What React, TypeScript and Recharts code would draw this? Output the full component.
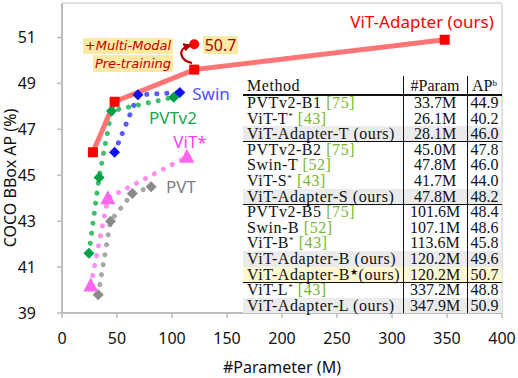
import React from "react";
import { ComposedChart, Line, XAxis, YAxis, Label } from "recharts";

const xTicks = [0, 50, 100, 150, 200, 250, 300, 350, 400];
const yTicks = [39, 41, 43, 45, 47, 49, 51];

const adapterParams = [28.1, 47.8, 120.2, 347.9];
const adapterAP = [46.0, 48.2, 49.6, 50.9];
const multiModalParams = [120.2];
const multiModalAP = [50.7];
const swinParams = [47.8, 69.1, 107.1];
const swinAP = [46.0, 48.5, 48.6];
const pvtv2Params = [24.5, 33.7, 45.0, 101.6];
const pvtv2AP = [41.6, 44.9, 47.8, 48.4];
const vitParams = [26.1, 41.7, 113.6];
const vitAP = [40.2, 44.0, 45.8];
const pvtParams = [32.9, 44.1, 63.9, 81.0];
const pvtAP = [39.8, 43.0, 44.2, 44.5];

const tableNames = [
  "PVTv2-B1", "ViT-T", "ViT-Adapter-T",
  "PVTv2-B2", "Swin-T", "ViT-S", "ViT-Adapter-S",
  "PVTv2-B5", "Swin-B", "ViT-B", "ViT-Adapter-B", "ViT-Adapter-B",
  "ViT-L", "ViT-Adapter-L",
];
const tableSup = ["", "*", "", "", "", "*", "", "", "", "*", "", "★", "*", ""];
const tableTail = ["", "", " (ours)", "", "", "", " (ours)", "", "", "", " (ours)", "(ours)", "", " (ours)"];
const tableRefs = ["75", "43", "", "75", "52", "43", "", "75", "52", "43", "", "", "43", ""];
const tableParams = ["33.7M", "26.1M", "28.1M", "45.0M", "47.8M", "41.7M", "47.8M", "101.6M", "107.1M", "113.6M", "120.2M", "120.2M", "337.2M", "347.9M"];
const tableAP = ["44.9", "40.2", "46.0", "47.8", "46.0", "44.0", "48.2", "48.4", "48.6", "45.8", "49.6", "50.7", "48.8", "50.9"];
const tableShade = ["", "", "gray", "", "", "", "gray", "", "", "", "gray", "yellow", "", "gray"];
const groupEnds = [2, 6, 11];

const pts = (xs: number[], ys: number[]) => xs.map((x, i) => ({ x, y: ys[i] }));

const diamond = (color: string) => (p: any) => (
  <path
    key={`d${p.index}`}
    d={`M${p.cx},${p.cy - 5.5}L${p.cx + 5.5},${p.cy}L${p.cx},${p.cy + 5.5}L${p.cx - 5.5},${p.cy}Z`}
    fill={color}
  />
);
const square = (color: string) => (p: any) => (
  <rect key={`s${p.index}`} x={p.cx - 5} y={p.cy - 5} width={10} height={10} fill={color} />
);
const triangle = (color: string) => (p: any) => (
  <path
    key={`t${p.index}`}
    d={`M${p.cx},${p.cy - 8}L${p.cx + 7.5},${p.cy + 6}L${p.cx - 7.5},${p.cy + 6}Z`}
    fill={color}
  />
);
const circle = (color: string) => (p: any) => (
  <circle key={`c${p.index}`} cx={p.cx} cy={p.cy} r={5} fill={color} />
);

const tickStyle = { fill: "#111", fontSize: 16, fontFamily: "Noto Sans" };
const axisGray = "#bdbdbd";
const supStyle = { fontSize: 9, lineHeight: 0, verticalAlign: "baseline", position: "relative" as const, top: -5 };

const ROW_TOP = 95;
const ROW_H = 15.6;
const TL = 243;
const TR = 502;
const C1 = 403;
const C2 = 467;

const Table = () => {
  const bottom = ROW_TOP + tableNames.length * ROW_H;
  const serif = { fontFamily: "Liberation Serif", fontSize: 16, color: "#111", lineHeight: `${ROW_H}px` };
  return (
    <div style={{ position: "absolute", left: 0, top: 0, width: 518, height: 378, pointerEvents: "none", ...serif }}>
      {tableNames.map((n, i) => {
        const top = ROW_TOP + i * ROW_H;
        const bg = tableShade[i] === "gray" ? "#ebebeb" : tableShade[i] === "yellow" ? "#fdf8d2" : "transparent";
        return (
          <div key={i} style={{ position: "absolute", left: TL, top, width: TR - TL, height: ROW_H, background: bg }}>
            <span style={{ position: "absolute", left: 4, top: 0, whiteSpace: "nowrap", letterSpacing: 0.55 }}>
              {n}
              {tableSup[i] && <span style={supStyle}>{tableSup[i]}</span>}
              {tableTail[i]}
              {tableRefs[i] && <span style={{ color: "#78b631" }}>{" ["}{tableRefs[i]}{"]"}</span>}
            </span>
            <span style={{ position: "absolute", left: C1 - TL, width: C2 - C1, textAlign: "center", top: 0 }}>{tableParams[i]}</span>
            <span style={{ position: "absolute", left: C2 - TL, width: TR - C2, textAlign: "center", top: 0 }}>{tableAP[i]}</span>
          </div>
        );
      })}
      <div style={{ position: "absolute", left: TL + 4, top: 77, lineHeight: "18px", letterSpacing: 0.55 }}>Method</div>
      <div style={{ position: "absolute", left: C1, width: C2 - C1, textAlign: "center", top: 77, lineHeight: "18px" }}>#Param</div>
      <div style={{ position: "absolute", left: C2, width: TR - C2, textAlign: "center", top: 77, lineHeight: "18px" }}>
        AP<span style={supStyle}>b</span>
      </div>
      <div style={{ position: "absolute", left: TL, top: ROW_TOP - 1, width: TR - TL, height: 1.5, background: "#111" }} />
      {groupEnds.map((g) => (
        <div key={g} style={{ position: "absolute", left: TL, top: ROW_TOP + (g + 1) * ROW_H - 0.5, width: TR - TL, height: 1, background: "#111" }} />
      ))}
      <div style={{ position: "absolute", left: C1, top: 76, width: 1, height: bottom - 76, background: "#111" }} />
      <div style={{ position: "absolute", left: C2, top: 76, width: 1, height: bottom - 76, background: "#111" }} />
    </div>
  );
};

const Overlay = () => (
  <svg width={518} height={378} style={{ position: "absolute", left: 0, top: 0, pointerEvents: "none" }}>
    <defs>
      <marker id="ah" viewBox="0 0 10 10" refX="5" refY="5" markerWidth="4" markerHeight="4" orient="auto">
        <path d="M0,0L10,5L0,10Z" fill="#b00000" />
      </marker>
    </defs>
    <line x1={62} y1={3} x2={502} y2={3} stroke="#d6d6d6" strokeWidth={1.5} />
    <line x1={502} y1={3} x2={502} y2={313} stroke="#d6d6d6" strokeWidth={1.5} />
    <text x={16} y={178} transform="rotate(-90 16 178)" textAnchor="middle" fontFamily="Noto Sans" fontSize={16} fill="#111">
      COCO BBox AP (%)
    </text>
    <g fontFamily="Noto Sans" fontSize={17} textAnchor="middle">
      <text x={422} y={28} fill="#ff0000">ViT-Adapter (ours)</text>
      <text x={211} y={99.5} fill="#4f4fff">Swin</text>
      <text x={173} y={124} fill="#17a651">PVTv2</text>
      <text x={190} y={147.5} fill="#ff3df0">ViT*</text>
      <text x={181} y={192.5} fill="#7f7f7f">PVT</text>
    </g>
    <rect x={83} y={38} width={90} height={16} fill="#fce9a4" />
    <rect x={93} y={55} width={80} height={17} fill="#fce9a4" />
    <rect x={203} y={36} width={35} height={18} fill="#fce9a4" />
    <g fontFamily="DejaVu Sans" fontStyle="italic" fontSize={13} fill="#c00000" textAnchor="middle">
      <text x={128} y={50}>+Multi-Modal</text>
      <text x={133} y={67.5}>Pre-training</text>
    </g>
    <text x={220.5} y={51} fontFamily="Noto Sans" fontSize={16} fill="#b00000" textAnchor="middle">50.7</text>
    <path d="M192,63 C179,60 178,49 188,46" fill="none" stroke="#b00000" strokeWidth={2.2} markerEnd="url(#ah)" />
  </svg>
);

export default function App() {
  return (
    <div style={{ position: "absolute", left: 0, top: 0, width: 518, height: 378, background: "#fff" }}>
      <ComposedChart width={518} height={378} margin={{ top: 3, right: 16, bottom: 2, left: 12 }}>
        <XAxis
          type="number"
          dataKey="x"
          domain={[0, 400]}
          ticks={xTicks}
          allowDataOverflow
          height={63}
          tickSize={5}
          tickMargin={15}
          tick={tickStyle}
          axisLine={{ stroke: axisGray, strokeWidth: 2 }}
          tickLine={{ stroke: axisGray, strokeWidth: 1.5 }}
        >
          <Label value="#Parameter (M)" position="insideBottom" offset={3} style={{ fontFamily: "Noto Sans", fontSize: 16, fill: "#111" }} />
        </XAxis>
        <YAxis
          type="number"
          dataKey="y"
          domain={[39, 52.5]}
          ticks={yTicks}
          allowDataOverflow
          width={50}
          tickSize={5}
          tickMargin={21}
          tick={tickStyle}
          axisLine={{ stroke: axisGray, strokeWidth: 2 }}
          tickLine={{ stroke: axisGray, strokeWidth: 1.5 }}
        />
        <Line data={pts(pvtParams, pvtAP)} dataKey="y" stroke="#a8a8a8" strokeWidth={5} strokeDasharray="0.1 10" strokeLinecap="round" dot={diamond("#8a8a8a")} activeDot={false} isAnimationActive={false} />
        <Line data={pts(vitParams, vitAP)} dataKey="y" stroke="#ff8ff0" strokeWidth={5} strokeDasharray="0.1 10" strokeLinecap="round" dot={triangle("#ff66ee")} activeDot={false} isAnimationActive={false} />
        <Line data={pts(pvtv2Params, pvtv2AP)} dataKey="y" stroke="#3dbf6e" strokeWidth={5} strokeDasharray="0.1 10" strokeLinecap="round" dot={diamond("#00a049")} activeDot={false} isAnimationActive={false} />
        <Line data={pts(swinParams, swinAP)} dataKey="y" stroke="#5a5aff" strokeWidth={5} strokeDasharray="0.1 10" strokeLinecap="round" dot={diamond("#1010ee")} activeDot={false} isAnimationActive={false} />
        <Line data={pts(adapterParams, adapterAP)} dataKey="y" stroke="#ff7474" strokeWidth={5} dot={square("#ff0000")} activeDot={false} isAnimationActive={false} />
        <Line data={pts(multiModalParams, multiModalAP)} dataKey="y" stroke="none" dot={circle("#ff0000")} activeDot={false} isAnimationActive={false} />
      </ComposedChart>
      <Overlay />
      <Table />
    </div>
  );
}
